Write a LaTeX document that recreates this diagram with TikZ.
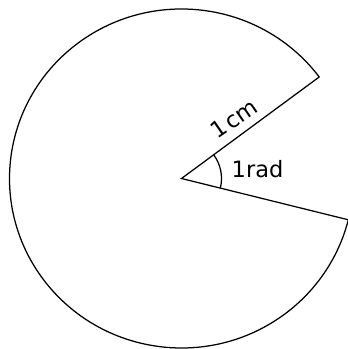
\documentclass[tikz,border=0pt]{standalone}
\usepackage{fontspec}
\setmainfont{DejaVu Sans}
\usetikzlibrary{calc}
\tikzset{
  outline/.style={line width=1.25pt, line join=miter, black},
  anglemark/.style={line width=1.25pt, black},
  lbl/.style={font=\fontsize{22.5}{26}\selectfont, inner sep=0pt}
}
\begin{document}
\begin{tikzpicture}[x=1pt,y=1pt]
\useasboundingbox (0,0) rectangle (348,349);
\coordinate (O) at (181.5,170.5);
\coordinate (A) at ($(O)+(36.8:172 and 169.5)$);
\coordinate (B) at ($(O)+(-14.1:172 and 169.5)$);
\draw[outline] (O) -- (A) arc[start angle=36.8, end angle=345.9, x radius=172, y radius=169.5] -- cycle;
\coordinate (P) at ($(O)+(-14.1:40)$);
\draw[anglemark] (P) arc[start angle=-14.1, end angle=36.8, radius=40];
\node[lbl, rotate=34.5, anchor=center] (cm) at (233.8,230.5) {1\hspace{0.12em}cm};
\node[lbl, anchor=base west] (rad) at (231.5,171.7) {1rad};
\end{tikzpicture}
\end{document}
